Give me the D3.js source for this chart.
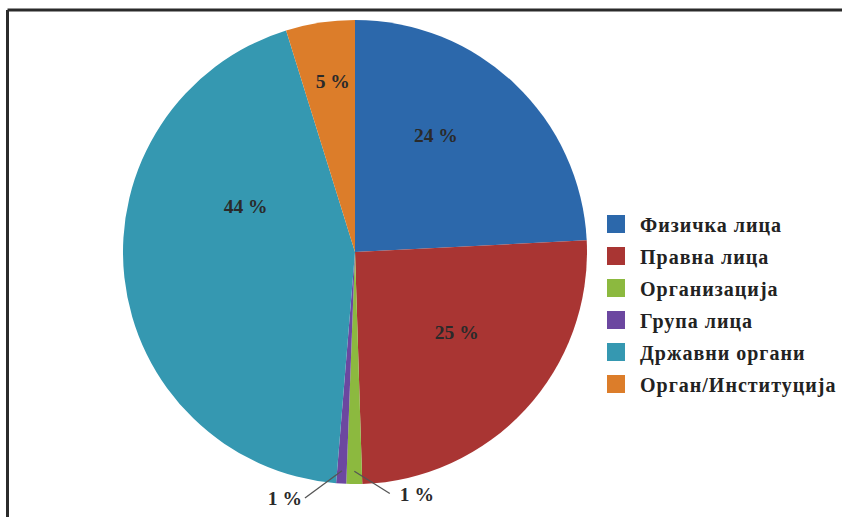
<html>
  <head>
    <script src="https://d3js.org/d3.v7.min.js"></script>
  </head>
  <body style="margin:0;background:#fff">
    <svg id="pie" width="842" height="517"></svg>
    <script>
      // data
      const categories = ['Физичка лица', 'Правна лица', 'Организација', 'Група лица', 'Државни органи', 'Орган/Институција'];
      const shares = [24.2, 25.3, 1.1, 0.7, 43.9, 4.8];
      const colors = ['#2c68ab', '#a93533', '#8cb93f', '#6c47a0', '#3598b1', '#dc7d2a'];

      const svg = d3.select('svg#pie');
      const cx = 355, cy = 252, radius = 232;

      // frame (top + left only, the rest is cropped)
      svg.append('line').attr('x1', 7.5).attr('y1', 10).attr('x2', 842).attr('y2', 10)
        .attr('stroke', '#2b2b2b').attr('stroke-width', 3);
      svg.append('line').attr('x1', 7.5).attr('y1', 10).attr('x2', 7.5).attr('y2', 517)
        .attr('stroke', '#2b2b2b').attr('stroke-width', 3);

      const pie = d3.pie().sort(null).value(d => d);
      const arcs = pie(shares);
      const arc = d3.arc().innerRadius(0).outerRadius(radius);

      let chartArea = svg.append('g').attr('transform', `translate(${cx}, ${cy})`);

      chartArea.selectAll('path.slice')
        .data(arcs)
        .join('path')
        .attr('class', 'slice')
        .attr('d', arc)
        .attr('fill', (d, i) => colors[i]);

      // polar helper (angle in radians clockwise from top)
      const polar = (a, r) => [Math.sin(a) * r, -Math.cos(a) * r];
      const deg = Math.PI / 180;

      // inside labels: angle shift and distance from centre (as share of radius)
      const labelShift = [-8.7, -4.2, 0, 0, 28.7, 1.2];
      const labelDist = [0.61, 0.56, 0, 0, 0.51, 0.74];

      const fmt = v => Math.round(v) + ' %';

      arcs.forEach((d, i) => {
        if (d.data < 3) return;
        const mid = (d.startAngle + d.endAngle) / 2 + labelShift[i] * deg;
        const [x, y] = polar(mid, labelDist[i] * radius);
        chartArea.append('text')
          .attr('x', x).attr('y', y)
          .attr('text-anchor', 'middle')
          .attr('dominant-baseline', 'central')
          .attr('class', 'pct')
          .text(fmt(d.data));
      });

      // callouts for the tiny slices
      const callout = {2: {angle: 171.8, dist: 244, anchor: 'start', dx: 10}, 3: {angle: 191.5, dist: 251, anchor: 'end', dx: -3}};
      arcs.forEach((d, i) => {
        if (!callout[i]) return;
        const c = callout[i];
        const mid = (d.startAngle + d.endAngle) / 2;
        const [x1, y1] = polar(mid, radius * 0.945);
        const [x2, y2] = polar(c.angle * deg, c.dist);
        chartArea.append('line')
          .attr('x1', x1).attr('y1', y1).attr('x2', x2).attr('y2', y2)
          .attr('stroke', '#555').attr('stroke-width', 1.3);
        chartArea.append('text')
          .attr('x', x2 + c.dx).attr('y', y2 + 1)
          .attr('text-anchor', c.anchor)
          .attr('dominant-baseline', 'central')
          .attr('class', 'pct')
          .text(fmt(d.data));
      });

      // legend
      const legendY = d3.scaleBand().domain(categories).range([208, 400]);
      const legend = svg.append('g').selectAll('g')
        .data(categories)
        .join('g')
        .attr('transform', d => `translate(607, ${legendY(d) + legendY.bandwidth() / 2})`);
      legend.append('rect')
        .attr('x', 0).attr('y', -9).attr('width', 18).attr('height', 18)
        .attr('fill', (d, i) => colors[i]);
      legend.append('text')
        .attr('x', 33).attr('y', 1)
        .attr('dominant-baseline', 'central')
        .attr('class', 'leg')
        .text(d => d);
    </script>
  </body>
  <style>
    .pct {
      font-family: 'Liberation Serif', serif;
      font-weight: bold;
      font-size: 19.5px;
      fill: #2a2a2a;
    }
    .leg {
      font-family: 'Liberation Serif', serif;
      font-weight: bold;
      font-size: 20px;
      letter-spacing: 1px;
      fill: #222;
    }
  </style>
</html>
